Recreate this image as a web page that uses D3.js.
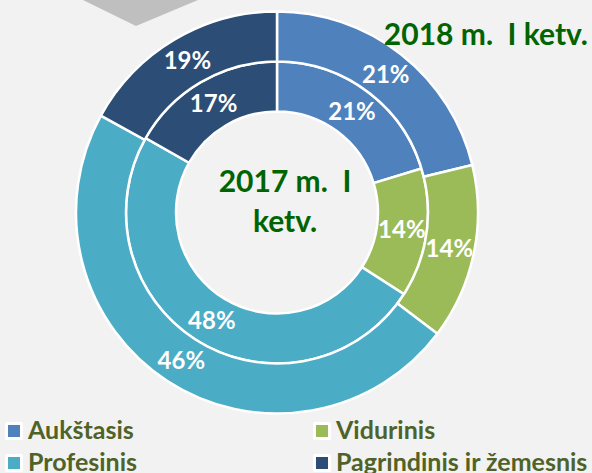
<!DOCTYPE html>
<html>
<head>
<meta charset="utf-8">
<script src="https://cdn.jsdelivr.net/npm/d3@7"></script>
<style>
  body { margin: 0; background: #f2f2f2; }
  svg { display: block; font-family: Lato, "Open Sans", sans-serif; font-weight: bold; }
</style>
</head>
<body>
<div id="graph"></div>
<script>
// categories and colours
var categories = ["Aukštasis", "Vidurinis", "Profesinis", "Pagrindinis ir žemesnis"];
var colors = ["#4f81bd", "#9bbb59", "#4bacc6", "#2c4d75"];

// slice sizes as drawn, and the printed labels
var inner2017 = [20.3, 13.8, 49.1, 16.8];
var outer2018 = [21.2, 14.1, 47.7, 17.0];
var innerLabels = ["21%", "14%", "48%", "17%"];
var outerLabels = ["21%", "14%", "46%", "19%"];

var width = 592,
    height = 473,
    cx = 277,
    cy = 212.5;

var chart = d3.select("#graph").append("svg")
    .attr("width", width)
    .attr("height", height);

chart.append("rect")
    .attr("width", width)
    .attr("height", height)
    .attr("fill", "#f2f2f2");

// grey chevron tip at the top
chart.append("path")
    .attr("d", "M83,0L136,26L198,0Z")
    .attr("fill", "#bfbfbf");

var pie = d3.pie().sort(null).value(function(d) { return d; });

var innerArc = d3.arc().innerRadius(101).outerRadius(151);
var outerArc = d3.arc().innerRadius(151).outerRadius(201);

var g = chart.append("g")
    .attr("transform", "translate(" + cx + "," + cy + ")");

function ring(values, labels, arc, cls) {
  var slices = pie(values);
  g.selectAll("path." + cls)
    .data(slices)
    .enter()
    .append("path")
    .attr("class", cls)
    .attr("d", arc)
    .attr("fill", function(d, i) { return colors[i]; })
    .attr("stroke", "#ffffff")
    .attr("stroke-width", 2.5);

  g.selectAll("text." + cls)
    .data(slices)
    .enter()
    .append("text")
    .attr("class", cls)
    .attr("transform", function(d) { return "translate(" + arc.centroid(d) + ")"; })
    .attr("text-anchor", "middle")
    .attr("dy", "0.35em")
    .attr("fill", "#ffffff")
    .attr("font-size", "24px")
    .text(function(d, i) { return labels[i]; });
}

ring(inner2017, innerLabels, innerArc, "inner");
ring(outer2018, outerLabels, outerArc, "outer");

// titles
chart.append("text")
    .attr("x", 588)
    .attr("y", 45)
    .attr("text-anchor", "end")
    .attr("fill", "#006400")
    .attr("font-size", "30px")
    .style("white-space", "pre")
    .text("2018 m.  I ketv.");

var center = chart.append("text")
    .attr("text-anchor", "middle")
    .attr("fill", "#006400")
    .attr("font-size", "30px")
    .style("white-space", "pre");
center.append("tspan").attr("x", 285).attr("y", 192).text("2017 m.  I");
center.append("tspan").attr("x", 285).attr("y", 232).text("ketv.");

// legend
var legend = chart.selectAll("g.legend")
    .data(categories)
    .enter()
    .append("g")
    .attr("class", "legend")
    .attr("transform", function(d, i) {
      return "translate(" + (i % 2 ? 313 : 5) + "," + (i < 2 ? 422 : 454) + ")";
    });

legend.append("rect")
    .attr("width", 18)
    .attr("height", 18)
    .attr("rx", 2)
    .attr("fill", "#ffffff");

legend.append("rect")
    .attr("x", 3)
    .attr("y", 3)
    .attr("width", 12)
    .attr("height", 12)
    .attr("fill", function(d, i) { return colors[i]; });

legend.append("text")
    .attr("x", 23)
    .attr("y", 17)
    .attr("fill", "#4f6228")
    .attr("font-size", "25px")
    .text(function(d) { return d; });
</script>
</body>
</html>
